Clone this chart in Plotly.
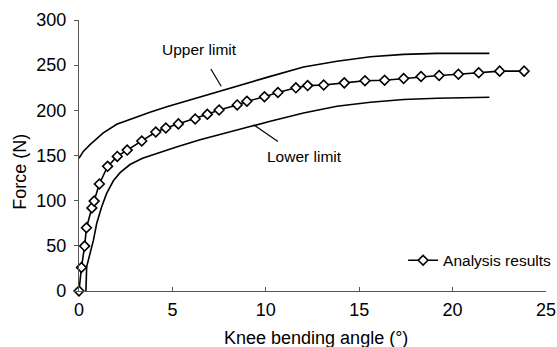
import plotly.graph_objects as go

# Analysis results (markers)
res_x = [0, 0.13, 0.3, 0.4, 0.69, 0.81, 1.09, 1.53, 2.05, 2.58, 3.36, 4.11, 4.65, 5.32, 6.22, 6.87, 7.5,
         8.47, 8.99, 9.93, 10.65, 11.61, 12.24, 13.1, 14.2, 15.31, 16.36, 17.38, 18.31, 19.28, 20.31,
         21.4, 22.52, 23.83]
res_y = [0, 26, 49.7, 70, 92, 99.5, 118.5, 138, 149, 156, 166, 176, 180.4, 185, 190.4, 195.6, 200.4,
         206, 210, 215, 219.7, 224.9, 227.4, 228, 230.4, 232.7, 233.3, 235.2, 237.4, 238.6, 240,
         241.6, 243.4, 243.4]

# Upper limit
up_x = [0, 0.23, 0.59, 1.3, 2.02, 2.91, 3.8, 4.7, 6.48, 8.27, 10.06, 12.02, 13.81, 15.6, 17.38, 19.17, 21.97]
up_y = [147, 154.5, 162, 175, 184.5, 191.5, 198, 204, 215, 225.5, 236.5, 248, 254.4, 259.3, 261.9, 263, 263]

# Lower limit
lo_x = [0.37, 0.41, 0.59, 0.77, 0.95, 1.21, 1.48, 1.84, 2.2, 2.73, 3.4, 4.3, 5.3, 6.48, 8.27, 9.16, 10.24,
        12.02, 13.81, 15.6, 17.38, 19.17, 21.97]
lo_y = [0, 26.7, 41.5, 56, 75, 93, 108, 122, 131, 140, 147, 153.5, 160, 167.4, 176.7, 182, 187.8,
        197, 204.5, 209, 212, 213.4, 214.5]

FONT = "Liberation Sans, Arial, sans-serif"

fig = go.Figure()
fig.add_trace(go.Scatter(x=up_x, y=up_y, mode="lines", line=dict(color="black", width=1.6),
                         showlegend=False))
fig.add_trace(go.Scatter(x=lo_x, y=lo_y, mode="lines", line=dict(color="black", width=1.6),
                         showlegend=False))
fig.add_trace(go.Scatter(x=res_x, y=res_y, mode="lines+markers", name="Analysis results",
                         line=dict(color="black", width=1.6),
                         marker=dict(symbol="diamond", size=7.5, color="white",
                                     line=dict(color="black", width=1.6)),
                         cliponaxis=False))

# leader lines
fig.add_shape(type="line", x0=7.06, y0=245.8, x1=7.61, y1=226.7, line=dict(color="black", width=1.2))
fig.add_shape(type="line", x0=9.34, y0=184.1, x1=10.65, y1=165.6, line=dict(color="black", width=1.2))

fig.add_annotation(x=6.43, y=267.4, text="Upper limit", showarrow=False,
                   font=dict(family=FONT, size=15.5, color="black"))
fig.add_annotation(x=12.06, y=148.6, text="Lower limit", showarrow=False,
                   font=dict(family=FONT, size=15.5, color="black"))
fig.add_annotation(x=-0.152, xref="paper", y=0.44, yref="paper", text="Force (N)", textangle=-90,
                   showarrow=False, font=dict(family=FONT, size=18, color="black"))
fig.add_annotation(x=0.507, xref="paper", y=-0.172, yref="paper", text="Knee bending angle (°)",
                   showarrow=False, yanchor="middle", font=dict(family=FONT, size=18, color="black"))

fig.update_layout(
    width=557, height=347,
    margin=dict(l=79, r=11, t=20, b=56, autoexpand=False),
    paper_bgcolor="white", plot_bgcolor="white",
    font=dict(family=FONT, size=18, color="black"),
    legend=dict(x=0.694, y=0.112, xanchor="left", yanchor="middle", bgcolor="rgba(0,0,0,0)",
                font=dict(family=FONT, size=15.5, color="black"), itemwidth=30),
    xaxis=dict(range=[0, 25], tickvals=[0, 5, 10, 15, 20, 25], showgrid=False, zeroline=False,
               showline=True, linecolor="#555", linewidth=1.2, ticks="inside", ticklen=4,
               tickcolor="#555", tickfont=dict(size=18), ticklabelstandoff=2, automargin=False),
    yaxis=dict(range=[0, 300], tickvals=[0, 50, 100, 150, 200, 250, 300], showgrid=False,
               zeroline=False, showline=True, linecolor="#555", linewidth=1.2, ticks="outside",
               ticklen=4, tickcolor="#555", tickfont=dict(size=18), ticklabelstandoff=4,
               automargin=False),
)

fig.write_html("out.html")
